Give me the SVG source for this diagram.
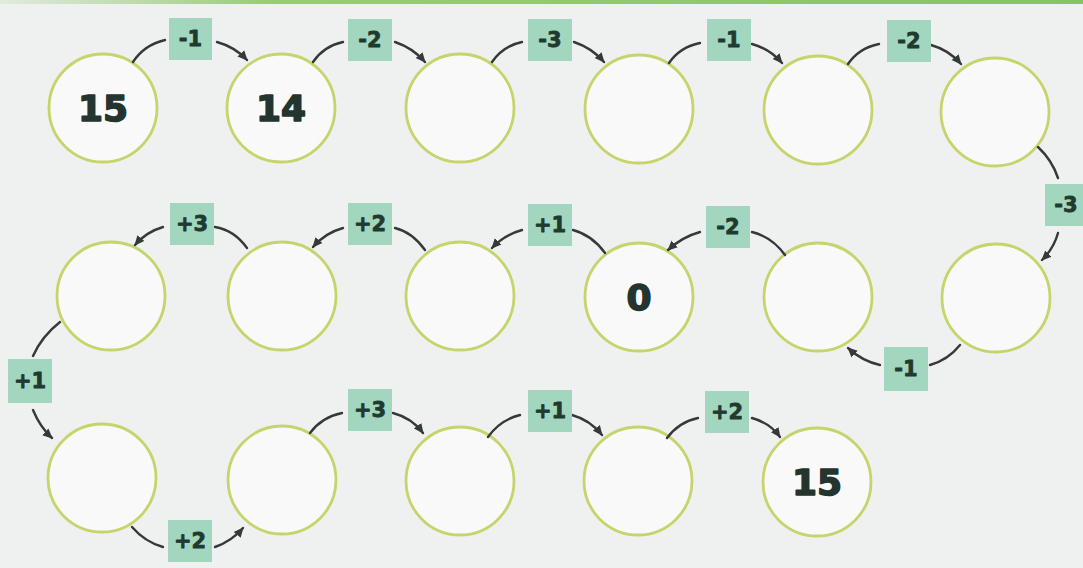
<svg xmlns="http://www.w3.org/2000/svg" width="1083" height="568" viewBox="0 0 1083 568">
<defs>
<marker id="ah" viewBox="0 0 10 10" refX="9" refY="5" markerWidth="4.2" markerHeight="4.2" markerUnits="strokeWidth" orient="auto">
<path d="M0,0.5 L10,5 L0,9.5 Z" fill="#343a3a"/>
</marker>
<linearGradient id="top" x1="0" y1="0" x2="1" y2="0">
<stop offset="0" stop-color="#8ec86a" stop-opacity="0.15"/>
<stop offset="0.25" stop-color="#8ec86a" stop-opacity="0.9"/>
<stop offset="1" stop-color="#86c463"/>
</linearGradient>
<style>
.n{fill:#f8f9f8;stroke:#c6d46c;stroke-width:2.8}
.v{font-family:"DejaVu Sans",sans-serif;font-weight:bold;font-size:36px;fill:#243530;stroke:#243530;stroke-width:1.6;stroke-linejoin:round;text-anchor:middle}
.b{fill:#a2d6bf}
.t{font-family:"DejaVu Sans",sans-serif;font-weight:bold;font-size:21px;fill:#1f3a2f;stroke:#1f3a2f;stroke-width:0.8;stroke-linejoin:round;text-anchor:middle}
.c path{fill:none;stroke:#343a3a;stroke-width:2.4;stroke-linecap:round}
.c path.a{marker-end:url(#ah)}
</style>
</defs>
<rect width="1083" height="568" fill="#eff1f1"/>
<rect x="0" y="0" width="1083" height="4" fill="url(#top)"/>

<!-- Row 1 nodes -->
<g id="n1"><circle class="n" cx="103" cy="108" r="54"/><text class="v" x="103" y="121">15</text></g>
<g id="n2"><circle class="n" cx="281" cy="108" r="54"/><text class="v" x="281" y="121">14</text></g>
<g id="n3"><circle class="n" cx="460" cy="108" r="54"/></g>
<g id="n4"><circle class="n" cx="639" cy="109" r="54"/></g>
<g id="n5"><circle class="n" cx="818" cy="110" r="54"/></g>
<g id="n6"><circle class="n" cx="995" cy="112" r="54"/></g>
<!-- Row 2 nodes -->
<g id="n7"><circle class="n" cx="996" cy="298" r="54"/></g>
<g id="n8"><circle class="n" cx="818" cy="297" r="54"/></g>
<g id="n9"><circle class="n" cx="639" cy="297" r="54"/><text class="v" x="639" y="310">0</text></g>
<g id="n10"><circle class="n" cx="460" cy="296" r="54"/></g>
<g id="n11"><circle class="n" cx="282" cy="296" r="54"/></g>
<g id="n12"><circle class="n" cx="111" cy="296" r="54"/></g>
<!-- Row 3 nodes -->
<g id="n13"><circle class="n" cx="102" cy="478" r="54"/></g>
<g id="n14"><circle class="n" cx="282" cy="480" r="54"/></g>
<g id="n15"><circle class="n" cx="460" cy="481" r="54"/></g>
<g id="n16"><circle class="n" cx="638" cy="481" r="54"/></g>
<g id="n17"><circle class="n" cx="817" cy="482" r="54"/><text class="v" x="817" y="495">15</text></g>

<!-- Connectors -->
<g id="connectors" class="c">
<path d="M133,62 Q144,45 165,40"/><path class="a" d="M217,42 Q235,47 247,60"/>
<path d="M313,62 Q324,46 343,42"/><path class="a" d="M395,42 Q413,48 425,62"/>
<path d="M492,62 Q503,46 522,42"/><path class="a" d="M574,42 Q592,48 604,62"/>
<path d="M669,63 Q680,47 700,43"/><path class="a" d="M752,44 Q770,49 782,63"/>
<path d="M848,64 Q859,48 879,44"/><path class="a" d="M931,45 Q949,50 961,64"/>
<path d="M1038,147 Q1052,160 1058,178"/><path class="a" d="M1058,233 Q1054,248 1042,260"/>
<path d="M960,345 Q948,360 930,365"/><path class="a" d="M880,365 Q862,361 848,348"/>
<path d="M785,255 Q772,237 752,232"/><path class="a" d="M700,232 Q682,237 668,250"/>
<path d="M605,253 Q592,235 573,230"/><path class="a" d="M522,230 Q504,235 492,248"/>
<path d="M425,250 Q412,232 395,228"/><path class="a" d="M343,228 Q325,233 313,247"/>
<path d="M247,248 Q234,230 215,227"/><path class="a" d="M163,227 Q146,232 135,245"/>
<path d="M60,322 Q42,336 33,356"/><path class="a" d="M33,410 Q40,427 52,438"/>
<path d="M132,527 Q145,542 163,547"/><path class="a" d="M215,547 Q232,541 243,528"/>
<path d="M310,433 Q322,417 342,413"/><path class="a" d="M393,413 Q412,418 423,433"/>
<path d="M488,437 Q500,420 520,415"/><path class="a" d="M572,415 Q590,420 602,435"/>
<path d="M667,438 Q679,422 698,418"/><path class="a" d="M752,418 Q770,423 780,437"/>
</g>

<!-- Labels -->
<g id="l1"><rect class="b" x="169" y="18" width="43" height="42"/><text class="t" x="190.5" y="46">-1</text></g>
<g id="l2"><rect class="b" x="348" y="19" width="44" height="42"/><text class="t" x="370" y="47">-2</text></g>
<g id="l3"><rect class="b" x="528" y="19" width="44" height="42"/><text class="t" x="550" y="47">-3</text></g>
<g id="l4"><rect class="b" x="707" y="19" width="44" height="42"/><text class="t" x="729" y="47">-1</text></g>
<g id="l5"><rect class="b" x="887" y="20" width="44" height="42"/><text class="t" x="909" y="48">-2</text></g>
<g id="l6"><rect class="b" x="1045" y="184" width="42" height="42"/><text class="t" x="1066" y="212">-3</text></g>
<g id="l7"><rect class="b" x="884" y="347" width="44" height="44"/><text class="t" x="906" y="376">-1</text></g>
<g id="l8"><rect class="b" x="706" y="206" width="44" height="42"/><text class="t" x="728" y="234">-2</text></g>
<g id="l9"><rect class="b" x="528" y="204" width="44" height="42"/><text class="t" x="550" y="232">+1</text></g>
<g id="l10"><rect class="b" x="348" y="203" width="44" height="42"/><text class="t" x="370" y="231">+2</text></g>
<g id="l11"><rect class="b" x="170" y="203" width="44" height="42"/><text class="t" x="192" y="231">+3</text></g>
<g id="l12"><rect class="b" x="8" y="359" width="44" height="44"/><text class="t" x="30" y="388">+1</text></g>
<g id="l13"><rect class="b" x="168" y="520" width="44" height="42"/><text class="t" x="190" y="548">+2</text></g>
<g id="l14"><rect class="b" x="348" y="389" width="44" height="42"/><text class="t" x="370" y="417">+3</text></g>
<g id="l15"><rect class="b" x="528" y="390" width="44" height="42"/><text class="t" x="550" y="418">+1</text></g>
<g id="l16"><rect class="b" x="705" y="391" width="44" height="42"/><text class="t" x="727" y="419">+2</text></g>
</svg>
